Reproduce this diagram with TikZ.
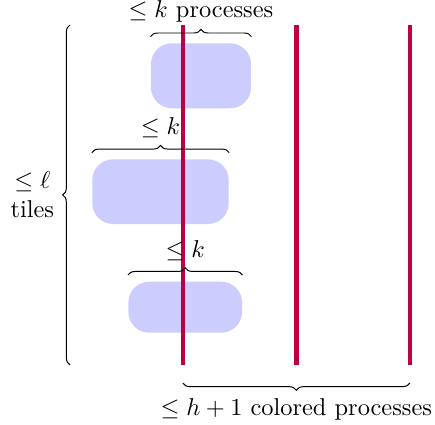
\documentclass[tikz,border=0pt]{standalone}
\usepackage{amsmath,amssymb}
\usepackage{tikz}
\usetikzlibrary{decorations.pathreplacing}
\tikzset{
  tile/.style={fill=blue!20,rounded corners=0.3cm,inner sep=0pt,minimum height=0.93cm},
  proc/.style={draw=purple,line width=1.8pt},
  brace/.style={decorate,decoration={brace,amplitude=3pt}}
}
\begin{document}
\begin{tikzpicture}[x=1cm,y=1cm]
  \useasboundingbox (0,0) rectangle (6.268,6.124);
  \node[tile,minimum width=1.441cm,minimum height=0.937cm] (tileA) at (2.896,5.032) {};
  \node[tile,minimum width=1.966cm,minimum height=0.932cm] (tileB) at (2.313,3.362) {};
  \node[tile,minimum width=1.638cm,minimum height=0.735cm] (tileC) at (2.669,1.697) {};
  \coordinate (p1top) at (2.634,5.764); \coordinate (p1bot) at (2.634,0.865);
  \coordinate (p2top) at (4.270,5.764); \coordinate (p2bot) at (4.270,0.865);
  \coordinate (p3top) at (5.906,5.764); \coordinate (p3bot) at (5.906,0.865);
  \draw[proc] (p1bot)--(p1top); \draw[proc] (p2bot)--(p2top); \draw[proc] (p3bot)--(p3top);
  \draw[brace] ([yshift=2.5pt]tileA.north west)--([yshift=2.5pt]tileA.north east) node[midway,above=5pt,inner ysep=0.8pt] {$\leq k$ processes};
  \draw[brace] ([yshift=2.5pt]tileB.north west)--([yshift=2.5pt]tileB.north east) node[midway,above=2.5pt] {$\leq k$};
  \draw[brace] ([yshift=2.5pt]tileC.north west)--([yshift=2.5pt]tileC.north east) node[midway,above=2.5pt] {$\leq k$};
  \draw[brace] (1.009,0.865)--(1.009,5.764) node[midway,left=3pt,align=center] {$\leq \ell$\\tiles};
  \draw[brace,decoration={mirror}] ([yshift=-0.26cm]p1bot)--([yshift=-0.26cm]p3bot) node[midway,below=3pt] {$\leq h+1$ colored processes};
\end{tikzpicture}
\end{document}
